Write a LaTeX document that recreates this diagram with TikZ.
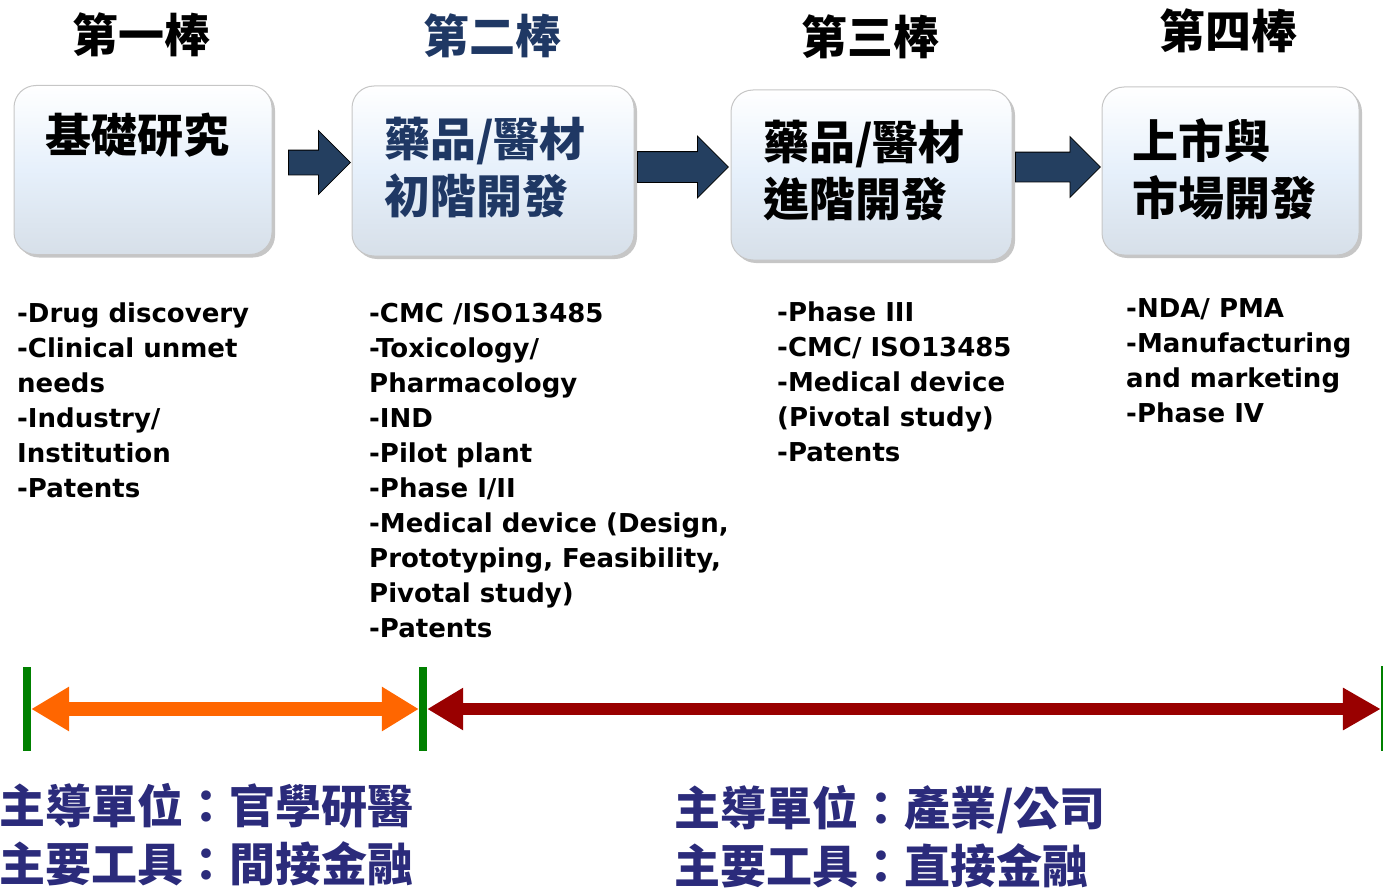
\documentclass[tikz,border=0pt]{standalone}
\usepackage{fontspec}
\setmainfont{DejaVu Sans}
\newfontfamily\cjk{Noto Sans CJK TC}
\usetikzlibrary{positioning}
\usetikzlibrary{shapes.arrows}
\usetikzlibrary{shadows}
\usetikzlibrary{arrows.meta}

\definecolor{boxfill}{HTML}{E6F0FB}
\definecolor{arrowfill}{HTML}{243F60}
\definecolor{navytext}{HTML}{1F3864}
\definecolor{indigotext}{HTML}{2B2B7B}
\definecolor{orangeline}{HTML}{FF6600}
\definecolor{redline}{HTML}{990000}
\definecolor{barline}{HTML}{008000}

\tikzset{
  stage/.style={rectangle, rounded corners=22pt, draw=gray!45, line width=1pt,
    top color=white, bottom color=boxfill!85!gray, middle color=boxfill,
    drop shadow={shadow xshift=3pt, shadow yshift=-3pt, opacity=0.45}, inner sep=0pt},
  stagetext/.style={anchor=north west, align=left, inner sep=0pt,
    font=\cjk\bfseries\fontsize{46}{57}\selectfont},
  relay/.style={inner sep=0pt, font=\cjk\bfseries\fontsize{46}{50}\selectfont},
  push/.style={single arrow, draw=black, line width=0.8pt, fill=arrowfill,
    inner xsep=0pt, single arrow head indent=0pt, anchor=tail},
  items/.style={anchor=north west, align=left, inner sep=0pt,
    font=\bfseries\fontsize{26}{35}\selectfont},
  bar/.style={rectangle, fill=barline, inner sep=0pt, minimum width=8pt, minimum height=84pt},
  lead/.style={anchor=north west, align=left, inner sep=0pt, text=indigotext,
    font=\cjk\bfseries\fontsize{46}{58}\selectfont}
}

\begin{document}
\begin{tikzpicture}[x=1pt,y=-1pt]
\useasboundingbox (0,0) rectangle (1383,888);

\node[relay] (h1) at (141,35) {第一棒};
\node[relay, text=navytext] (h2) at (492,36) {第二棒};
\node[relay] (h3) at (870,37) {第三棒};
\node[relay] (h4) at (1228,31) {第四棒};

\node[stage, minimum width=258pt, minimum height=169pt] (b1) at (143,170) {};
\node[stage, minimum width=282pt, minimum height=170pt] (b2) at (493,171) {};
\node[stage, minimum width=281pt, minimum height=170pt] (b3) at (871.5,175) {};
\node[stage, minimum width=257pt, minimum height=168pt] (b4) at (1230.5,171) {};

\node[stagetext] (t1) at (45,113) {基礎研究};
\node[stagetext, text=navytext] (t2) at (384,117) {藥品/醫材\\初階開發};
\node[stagetext] (t3) at (763,120) {藥品/醫材\\進階開發};
\node[stagetext] (t4) at (1132,118) {上市與\\市場開發};

\node[push, inner ysep=12pt, single arrow head extend=19.5pt, minimum height=62pt] (a1) at (288,162.5) {};
\node[push, inner ysep=15pt, single arrow head extend=15.5pt, minimum height=91pt] (a2) at (637,167) {};
\node[push, inner ysep=14.5pt, single arrow head extend=15.5pt, minimum height=85pt] (a3) at (1015,167) {};

\node[items] (l1) at (17,303) {-Drug discovery\\-Clinical unmet\\needs\\-Industry/\\Institution\\-Patents};
\node[items] (l2) at (369,303) {-CMC /ISO13485\\-Toxicology/\\Pharmacology\\-IND\\-Pilot plant\\-Phase I/II\\-Medical device (Design,\\Prototyping, Feasibility,\\Pivotal study)\\-Patents};
\node[items] (l3) at (777,302) {-Phase III\\-CMC/ ISO13485\\-Medical device\\(Pivotal study)\\-Patents};
\node[items] (l4) at (1126,298) {-NDA/ PMA\\-Manufacturing\\and marketing\\-Phase IV};

\node[bar] (g1) at (27,709) {};
\node[bar] (g2) at (423,709) {};
\node[bar, minimum width=2pt, minimum height=85pt] (g3) at (1382,708) {};

\draw[orangeline, line width=14pt, {Triangle[length=38pt,width=42pt]}-{Triangle[length=37pt,width=42pt]}] (g1.east) -- (g2.west);
\draw[redline, line width=12pt, {Triangle[length=36pt,width=40pt]}-{Triangle[length=38pt,width=40pt]}] (g2.east) -- (g2.east -| g3.west);

\node[lead] (u1) at (-1,783) {主導單位：官學研醫\\主要工具：間接金融};
\node[lead] (u2) at (674,785) {主導單位：產業/公司\\主要工具：直接金融};
\end{tikzpicture}
\end{document}
